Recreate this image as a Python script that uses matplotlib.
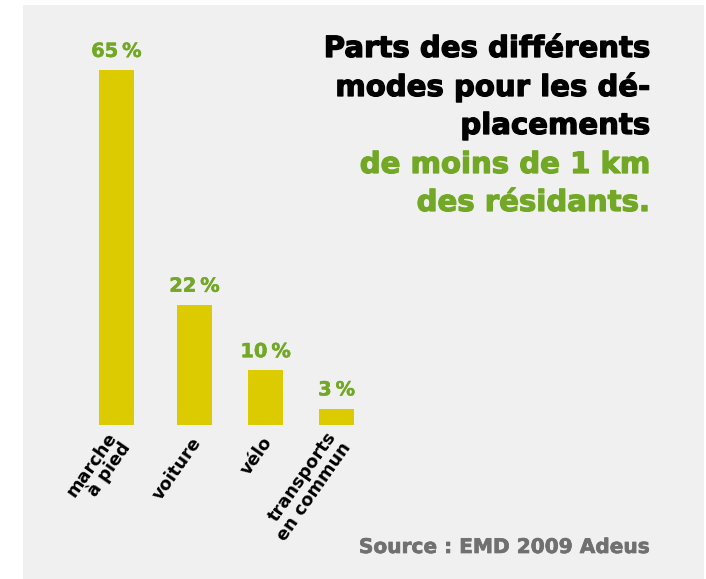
import matplotlib
matplotlib.use("Agg")
import matplotlib.pyplot as plt
import matplotlib.patheffects as pe
from matplotlib.patches import Rectangle
import numpy as np

categories = ["marche\nà pied", "voiture", "vélo", "transports\nen commun"]
values = [65, 22, 10, 3]
value_labels = ["65\u2009%", "22\u2009%", "10\u2009%", "3\u2009%"]
title_black = ["Parts des différents", "modes pour les dé-", "placements"]
title_green = ["de moins de 1 km", "des résidants."]
source = "Source : EMD 2009 Adeus"

# layout (not data)
positions = np.array([0.0, 1.1, 2.1, 3.1])
W, H = 706, 579
BG = "#f0f0f0"
YELLOW = "#dccb00"
GREEN = "#72a826"
FONT = "DejaVu Sans"


def heavy(color, lw):
    return [pe.withStroke(linewidth=lw, foreground=color)]


fig = plt.figure(figsize=(W / 100, H / 100), dpi=100, facecolor="white")
fig.patches.append(Rectangle((23 / W, 0), (704 - 23) / W, (H - 5) / H,
                             transform=fig.transFigure, facecolor=BG,
                             edgecolor="none", zorder=-10))

unit = 71.0
ax_left, ax_right = 23, 703
bar_bottom_px = 425
px_per_pct = 5.46
ymax = 75
ax = fig.add_axes([ax_left / W, (H - bar_bottom_px) / H,
                   (ax_right - ax_left) / W, ymax * px_per_pct / H])
ax.patch.set_alpha(0)
xmin = -(116.5 - ax_left) / unit
ax.set_xlim(xmin, xmin + (ax_right - ax_left) / unit)
ax.set_ylim(0, ymax)
ax.axis("off")

ax.bar(positions, values, width=35 / unit, color=YELLOW, clip_on=False)

for x, v, lab in zip(positions, values, value_labels):
    ax.annotate(lab, (x, v), xytext=(0, 9.5), textcoords="offset points",
                ha="center", va="baseline", color=GREEN, fontsize=14,
                fontweight="bold", family=FONT, path_effects=heavy(GREEN, 0.35))

for x, cat in zip(positions, categories):
    ax.annotate(cat, (x, 0), xytext=(2.5, -10), textcoords="offset points",
                ha="right", va="center", rotation=55, rotation_mode="anchor",
                color="black", fontsize=12.8, fontweight="bold", family=FONT,
                linespacing=0.95, annotation_clip=False)

title_x = 650 / W
baselines = [57, 96, 134, 173, 211]
lines = [(t, "black") for t in title_black] + [(t, GREEN) for t in title_green]
for (txt, col), yb in zip(lines, baselines):
    fig.text(title_x, 1 - yb / H, txt, ha="right", va="baseline", color=col,
             fontsize=21, fontweight="bold", family=FONT,
             path_effects=heavy(col, 0.9))

fig.text(title_x, 1 - 553 / H, source, ha="right", va="baseline",
         color="#707070", fontsize=14.5, fontweight="bold", family=FONT,
         path_effects=heavy("#707070", 0.5))

fig.savefig("out.png", dpi=100, facecolor="white")
